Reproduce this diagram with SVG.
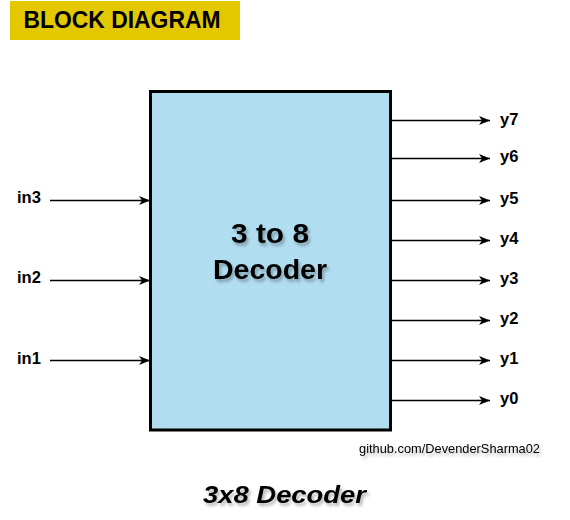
<svg xmlns="http://www.w3.org/2000/svg" width="570" height="520" viewBox="0 0 570 520">
<defs>
<style>
text{font-family:"Liberation Sans",Arial,sans-serif;fill:#000}
.lbl{font-size:16.5px;font-weight:bold}
.conn line{stroke:#000;stroke-width:1.3;fill:none}
.sh{filter:url(#shadow)}
</style>
<filter id="shadow" x="-20%" y="-40%" width="140%" height="180%">
<feDropShadow dx="2" dy="3" stdDeviation="1.8" flood-color="#000" flood-opacity="0.28"/>
</filter>
<marker id="arr" markerUnits="userSpaceOnUse" markerWidth="12" markerHeight="10" refX="11" refY="4.5" orient="auto">
<path d="M0,0 L11,4.5 L0,9 L3,4.5 Z" fill="#000"/>
</marker>
</defs>
<rect width="570" height="520" fill="#fff"/>
<g id="title">
<rect x="10" y="1" width="230" height="39" fill="#e3c800"/>
<text x="122" y="28" text-anchor="middle" font-size="23" font-weight="bold" textLength="197" lengthAdjust="spacingAndGlyphs">BLOCK DIAGRAM</text>
</g>
<g id="decoder">
<rect x="150.5" y="91.5" width="240" height="338.5" fill="#b1ddf0" stroke="#000" stroke-width="3"/>
<text class="sh" x="270" y="243" text-anchor="middle" font-size="27" font-weight="bold" textLength="78" lengthAdjust="spacingAndGlyphs">3 to 8</text>
<text class="sh" x="270" y="279" text-anchor="middle" font-size="27" font-weight="bold" textLength="114" lengthAdjust="spacingAndGlyphs">Decoder</text>
</g>
<g class="conn" id="connectors">
<line x1="50" y1="200.5" x2="150" y2="200.5" marker-end="url(#arr)"/>
<line x1="50" y1="280.5" x2="150" y2="280.5" marker-end="url(#arr)"/>
<line x1="50" y1="360.5" x2="150" y2="360.5" marker-end="url(#arr)"/>
<line x1="392" y1="120.5" x2="490" y2="120.5" marker-end="url(#arr)"/>
<line x1="392" y1="158.5" x2="490" y2="158.5" marker-end="url(#arr)"/>
<line x1="392" y1="200.5" x2="490" y2="200.5" marker-end="url(#arr)"/>
<line x1="392" y1="240.5" x2="490" y2="240.5" marker-end="url(#arr)"/>
<line x1="392" y1="280.5" x2="490" y2="280.5" marker-end="url(#arr)"/>
<line x1="392" y1="320.5" x2="490" y2="320.5" marker-end="url(#arr)"/>
<line x1="392" y1="360.5" x2="490" y2="360.5" marker-end="url(#arr)"/>
<line x1="392" y1="400.5" x2="490" y2="400.5" marker-end="url(#arr)"/>
</g>
<g id="in3"><text class="lbl" x="17" y="203">in3</text></g>
<g id="in2"><text class="lbl" x="17" y="283">in2</text></g>
<g id="in1"><text class="lbl" x="17" y="364">in1</text></g>
<g id="y7"><text class="lbl" x="500" y="125">y7</text></g>
<g id="y6"><text class="lbl" x="500" y="162">y6</text></g>
<g id="y5"><text class="lbl" x="500" y="204">y5</text></g>
<g id="y4"><text class="lbl" x="500" y="244">y4</text></g>
<g id="y3"><text class="lbl" x="500" y="284">y3</text></g>
<g id="y2"><text class="lbl" x="500" y="324">y2</text></g>
<g id="y1"><text class="lbl" x="500" y="364">y1</text></g>
<g id="y0"><text class="lbl" x="500" y="404">y0</text></g>
<g id="credit"><text class="sh" x="359" y="453" font-size="13" fill="#333" textLength="181" lengthAdjust="spacingAndGlyphs">github.com/DevenderSharma02</text></g>
<g id="caption"><text class="sh" x="203" y="503" font-size="24" font-weight="bold" font-style="italic" textLength="163" lengthAdjust="spacingAndGlyphs">3x8 Decoder</text></g>
</svg>
